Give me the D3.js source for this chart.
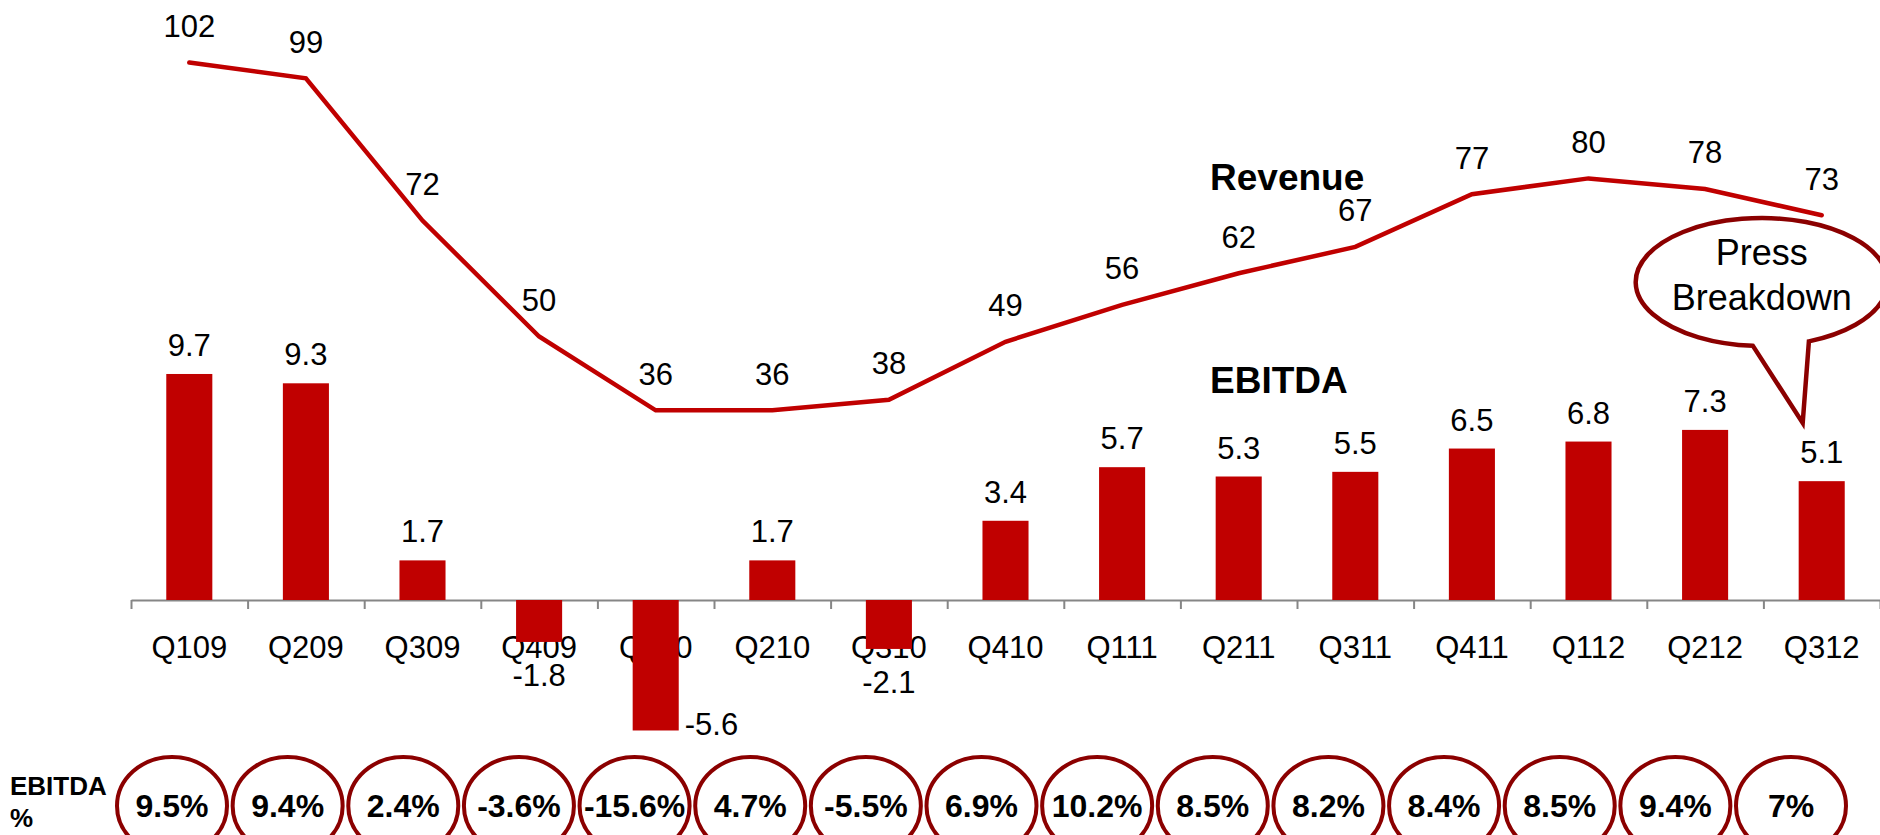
<!DOCTYPE html>
<html><head><meta charset="utf-8">
<script src="https://cdn.jsdelivr.net/npm/d3@7"></script>
<style>html,body{margin:0;padding:0;background:#fff;overflow:hidden}
svg{display:block;font-family:"Liberation Sans",Arial,sans-serif}</style>
</head><body><svg id="chart" width="1880" height="835"></svg>
<script>
// ---- data ----
const categories = ["Q109","Q209","Q309","Q409","Q110","Q210","Q310","Q410","Q111","Q211","Q311","Q411","Q112","Q212","Q312"];
const revenue = [102,99,72,50,36,36,38,49,56,62,67,77,80,78,73];
const ebitda = [9.7,9.3,1.7,-1.8,-5.6,1.7,-2.1,3.4,5.7,5.3,5.5,6.5,6.8,7.3,5.1];
const ebitdaPct = [9.5,9.4,2.4,-3.6,-15.6,4.7,-5.5,6.9,10.2,8.5,8.2,8.4,8.5,9.4,7];
const seriesNames = ["Revenue","EBITDA"];
const calloutLines = ["Press","Breakdown"];
const pctTitle = ["EBITDA","%"];

// ---- layout ----
const W = 1880, H = 835, baseY = 600;
const red = "#C00000", darkRed = "#8B0000";
const svg = d3.select("#chart");
svg.append("rect").attr("width",W).attr("height",H).attr("fill","#fff");

const x = d3.scaleBand().domain(categories).range([131,1880]).paddingInner(0.605).paddingOuter(0.3025);
const cx = c => x(c) + x.bandwidth()/2;
const yRev = d3.scaleLinear().domain([0,113.85]).range([baseY,0]);
const yEb = d3.scaleLinear().domain([0,25.75]).range([baseY,0]);

// axis with category labels
const axisG = svg.append("g").attr("transform",`translate(0,${baseY})`)
  .call(d3.axisBottom(x).tickSize(0).tickSizeOuter(0).tickPadding(0));
axisG.select(".domain").attr("stroke","#868686").attr("stroke-width",2);
axisG.selectAll(".tick text").attr("y",58).attr("dy",0)
  .attr("font-size",31).attr("fill","#000").attr("font-family",'"Liberation Sans",Arial,sans-serif');

// boundary ticks
const bScale = d3.scaleLinear().domain([0,categories.length]).range(x.range());
const tickG = svg.append("g").attr("transform",`translate(0,${baseY})`)
  .call(d3.axisBottom(bScale).tickValues(d3.range(categories.length+1)).tickSize(9).tickFormat(""));
tickG.select(".domain").remove();
tickG.selectAll(".tick line").attr("stroke","#868686").attr("stroke-width",2);

// bars
const ebData = categories.map((c,i)=>({c, v: ebitda[i]}));
svg.append("g").selectAll("rect").data(ebData).join("rect")
  .attr("x", d => x(d.c))
  .attr("width", x.bandwidth())
  .attr("y", d => Math.min(yEb(d.v), yEb(0)))
  .attr("height", d => Math.abs(yEb(d.v) - yEb(0)))
  .attr("fill", red);

// bar labels
const pctRowTop = 740;
svg.append("g").selectAll("text").data(ebData).join("text")
  .attr("font-size",31).attr("fill","#000")
  .each(function(d){
    const t = d3.select(this).text(d.v.toFixed(1));
    if (d.v >= 0) {
      t.attr("x", cx(d.c)).attr("y", yEb(d.v) - 18).attr("text-anchor","middle");
    } else if (yEb(d.v) + 44.5 > pctRowTop) {
      t.attr("x", x(d.c) + x.bandwidth() + 6).attr("y", yEb(d.v) + 5).attr("text-anchor","start");
    } else {
      t.attr("x", cx(d.c)).attr("y", yEb(d.v) + 44.5).attr("text-anchor","middle");
    }
  });

// revenue line
const revData = categories.map((c,i)=>({c, v: revenue[i]}));
svg.append("path").datum(revData)
  .attr("d", d3.line().x(d=>cx(d.c)).y(d=>yRev(d.v)))
  .attr("fill","none").attr("stroke",red).attr("stroke-width",4.5)
  .attr("stroke-linejoin","miter").attr("stroke-linecap","round");

svg.append("g").selectAll("text").data(revData).join("text")
  .attr("x", d=>cx(d.c)).attr("y", d=>yRev(d.v) - 25.5)
  .attr("text-anchor","middle").attr("font-size",31).attr("fill","#000")
  .text(d=>d.v);

// series name labels
svg.append("text").attr("x",1210).attr("y",190).attr("font-size",37).attr("font-weight","bold").text(seriesNames[0]);
svg.append("text").attr("x",1210).attr("y",393).attr("font-size",37).attr("font-weight","bold").text(seriesNames[1]);

// callout
const last = categories[categories.length-1];
const ccx = cx(last) - 60, ccy = 282, rx = 126, ry = 64;
const angA = 94*Math.PI/180, angB = 68*Math.PI/180;
const A = [ccx + rx*Math.cos(angA), ccy + ry*Math.sin(angA)];
const B = [ccx + rx*Math.cos(angB), ccy + ry*Math.sin(angB)];
const tip = [cx(last) - 19, 423];
svg.append("path")
  .attr("d", `M${A[0]},${A[1]} A${rx},${ry} 0 1 1 ${B[0]},${B[1]} L${tip[0]},${tip[1]} Z`)
  .attr("fill","#fff").attr("stroke",darkRed).attr("stroke-width",4.5).attr("stroke-linejoin","miter");
svg.append("g").selectAll("text").data(calloutLines).join("text")
  .attr("x", ccx).attr("y",(d,i)=>265 + i*45).attr("text-anchor","middle")
  .attr("font-size",36).attr("fill","#000").text(d=>d);

// EBITDA % row
const xp = d3.scalePoint().domain(categories).range([172,1791]);
const pctData = categories.map((c,i)=>({c, v: ebitdaPct[i]}));
const pg = svg.append("g");
pg.selectAll("ellipse").data(pctData).join("ellipse")
  .attr("cx", d=>xp(d.c)).attr("cy", 806).attr("rx",55).attr("ry",49)
  .attr("fill","none").attr("stroke",darkRed).attr("stroke-width",4);
pg.selectAll("text").data(pctData).join("text")
  .attr("x", d=>xp(d.c)).attr("y", 817).attr("text-anchor","middle")
  .attr("font-size",32).attr("font-weight","bold").attr("fill","#000")
  .text(d=>d.v + "%");
svg.append("g").selectAll("text").data(pctTitle).join("text")
  .attr("x",10).attr("y",(d,i)=>795 + i*32).attr("font-size",26).attr("font-weight","bold").text(d=>d);
</script></body></html>
